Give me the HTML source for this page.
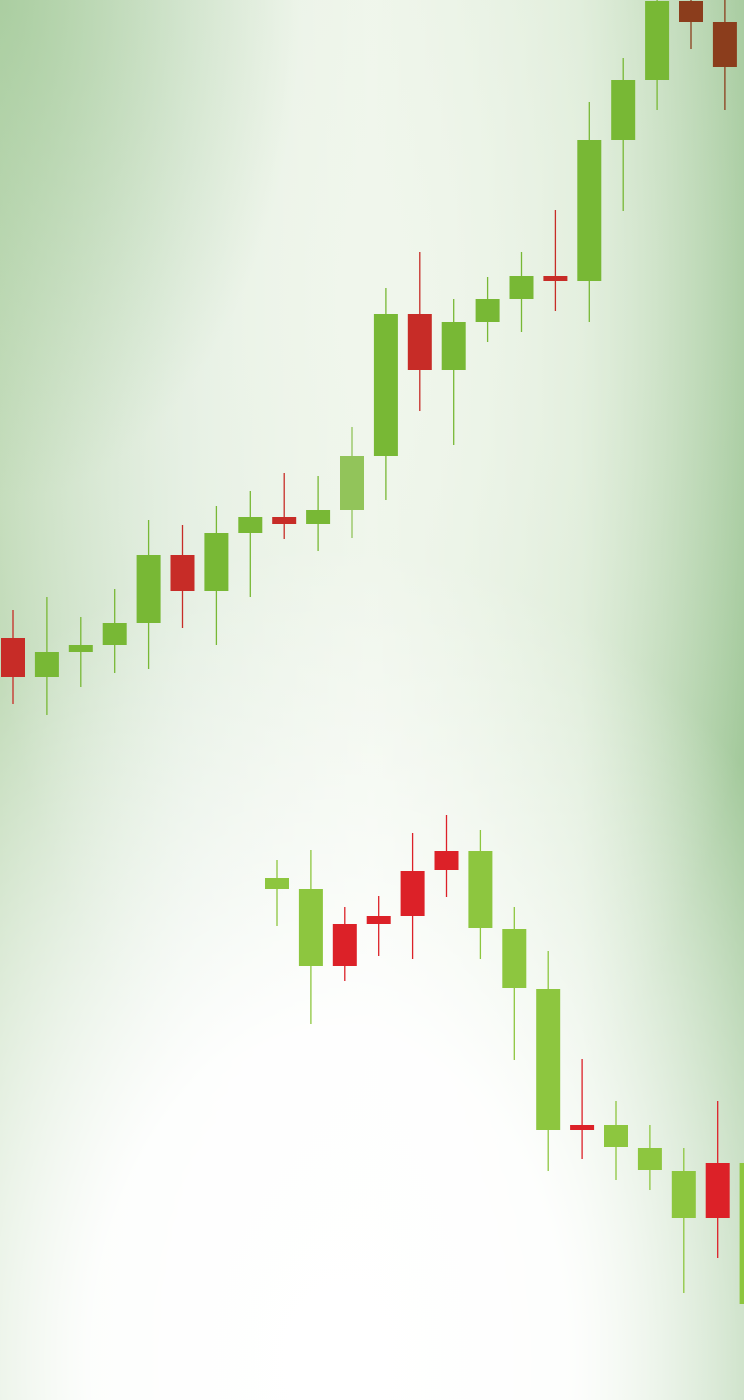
<!DOCTYPE html>
<html><head><meta charset="utf-8">
<style>
html,body{margin:0;padding:0}
body{width:744px;height:1400px;overflow:hidden;position:relative;font-family:"Liberation Sans",sans-serif;
background:
radial-gradient(ellipse 600px 820px at 330px 1360px, #ffffff 0%, rgba(255,255,255,0.95) 40%, rgba(255,255,255,0) 100%),
radial-gradient(ellipse 300px 500px at 0px 0px, rgba(160,200,150,0.7) 0%, rgba(160,200,150,0) 100%),
radial-gradient(ellipse 420px 900px at 380px 300px, rgba(240,246,236,1) 0%, rgba(240,246,236,0) 100%),
linear-gradient(90deg,#c2dbb9 0%,#dceadb 25%,#eef5ea 50%,#d6e8d0 78%,#a3c99b 100%);}
svg{position:absolute;left:0;top:0}
</style></head>
<body>
<svg id="chart" width="744" height="1400"></svg>
<script>
// Upper series (price units: y = 1400 - price)
const upperIdx = [0,1,2,3,4,5,6,7,8,9,10,11,12,13,14,15,16,17,18,19,20,21];
const upperOpen  = [762,748,748,755,777,845,809,867,883,876,890,944,1086,1030,1078,1101,1124,1119,1260,1320,1399,1378];
const upperClose = [723,723,755,777,845,809,867,883,876,890,944,1086,1030,1078,1101,1124,1119,1260,1320,1399,1378,1333];
const upperHigh  = [790,803,783,811,880,875,894,909,927,924,973,1112,1148,1101,1123,1148,1190,1298,1342,1400,1400,1400];
const upperLow   = [696,685,713,727,731,772,755,803,861,849,862,900,989,955,1058,1068,1089,1078,1189,1290,1351,1290];
const upperUp    = [0,1,1,1,1,0,1,1,0,1,1,1,0,1,1,1,0,1,1,1,0,0];
const upperColorOverride = [null,null,null,null,null,null,null,null,null,null,"#92c45a",null,null,null,null,null,null,null,null,null,"#8b3d1c","#8b3d1c"];

// Lower series
const lowerIdx = [0,1,2,3,4,5,6,7,8,9,10,11,12,13,14];
const lowerOpen  = [511,434,476,484,484,549,472,471,411,275,253,230,182,237,96];
const lowerClose = [522,511,434,476,529,530,549,412,270,270,275,252,229,182,237];
const lowerHigh  = [540,550,493,504,567,585,570,493,449,341,299,275,252,299,250];
const lowerLow   = [474,376,419,444,441,503,441,340,229,241,220,210,107,142,90];
const lowerUp    = [1,1,0,0,0,0,1,1,1,0,1,1,1,0,1];

const svg = document.getElementById('chart');
const NS = 'http://www.w3.org/2000/svg';
function xUpper(i){ return 13 + i * 33.9; }
function xLower(i){ return 277 + i * 33.9; }
function yScale(v){ return 1400 - v; }
const bodyW = 24;

function drawSeries(idx, op, cl, hi, lo, upFlags, xs, up, down, override, name){
  const g = document.createElementNS(NS,'g');
  
  
  svg.appendChild(g);
  for(let k=0;k<idx.length;k++){
    const x = xs(idx[k]);
    const col = (override && override[k]) ? override[k] : (upFlags[k] ? up : down);
    const w = document.createElementNS(NS,'line');
    w.setAttribute('x1', x); w.setAttribute('x2', x);
    w.setAttribute('y1', yScale(hi[k])); w.setAttribute('y2', yScale(lo[k]));
    w.setAttribute('stroke', col); w.setAttribute('stroke-width', 1.3);
    
    
    g.appendChild(w);
    const top = yScale(Math.max(op[k], cl[k]));
    const bot = yScale(Math.min(op[k], cl[k]));
    const r = document.createElementNS(NS,'rect');
    r.setAttribute('x', x - bodyW/2); r.setAttribute('width', bodyW);
    r.setAttribute('y', top); r.setAttribute('height', Math.max(bot - top, 5));
    r.setAttribute('fill', col);
    
    
    g.appendChild(r);
  }
}
drawSeries(upperIdx, upperOpen, upperClose, upperHigh, upperLow, upperUp, xUpper, '#78b835', '#c72c27', upperColorOverride, 'upper-candles');
drawSeries(lowerIdx, lowerOpen, lowerClose, lowerHigh, lowerLow, lowerUp, xLower, '#8dc63f', '#dc2128', null, 'lower-candles');
</script>
</body></html>
